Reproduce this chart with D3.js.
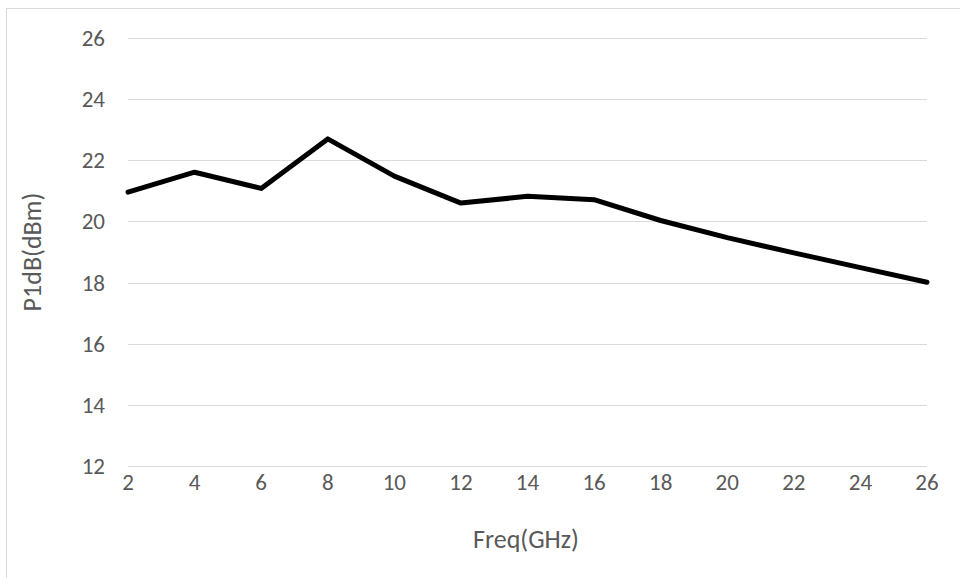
<!DOCTYPE html>
<html>
<head>
<meta charset="UTF-8">
<script src="https://d3js.org/d3.v7.min.js"></script>
<style>
  body { margin: 0; background: #fff; }
  text { font-family: Carlito, Calibri, Lato, sans-serif; fill: #595959; }
</style>
</head>
<body>
<svg width="960" height="578"></svg>
<script>
// values
var freq = [2, 4, 6, 8, 10, 12, 14, 16, 18, 20, 22, 24, 26];
var p1db = [20.96, 21.61, 21.08, 22.7, 21.48, 20.6, 20.82, 20.71, 20.03, 19.47, 18.97, 18.49, 18.01];
var yTicks = [12, 14, 16, 18, 20, 22, 24, 26];
var xTicks = [2, 4, 6, 8, 10, 12, 14, 16, 18, 20, 22, 24, 26];

var svg = d3.select("svg");

// outer frame
svg.append("rect")
  .attr("x", 6.5).attr("y", 8.5)
  .attr("width", 980).attr("height", 600)
  .attr("fill", "none").attr("stroke", "#d9d9d9");

var x = d3.scaleLinear().domain([2, 26]).range([128, 927]);
var y = d3.scaleLinear().domain([12, 26]).range([466, 38]);

// gridlines
svg.selectAll(".grid").data(yTicks).enter().append("line")
  .attr("x1", 128).attr("x2", 927)
  .attr("y1", function(d) { return Math.round(y(d)) + 0.5; })
  .attr("y2", function(d) { return Math.round(y(d)) + 0.5; })
  .attr("stroke", "#d9d9d9").attr("stroke-width", 1);

// y tick labels
svg.selectAll(".ylab").data(yTicks).enter().append("text")
  .attr("x", 105).attr("y", function(d) { return y(d); })
  .attr("dy", "0.35em")
  .attr("text-anchor", "end")
  .style("font-size", "23px")
  .text(function(d) { return d; });

// x tick labels
svg.selectAll(".xlab").data(xTicks).enter().append("text")
  .attr("x", function(d) { return x(d); }).attr("y", 482)
  .attr("dy", "0.35em")
  .attr("text-anchor", "middle")
  .style("font-size", "23px")
  .text(function(d) { return d; });

// axis titles
svg.append("text")
  .attr("x", 526).attr("y", 539)
  .attr("dy", "0.35em")
  .attr("text-anchor", "middle")
  .style("font-size", "26px")
  .text("Freq(GHz)");

svg.append("text")
  .attr("transform", "translate(32,252) rotate(-90)")
  .attr("dy", "0.35em")
  .attr("text-anchor", "middle")
  .style("font-size", "26px")
  .text("P1dB(dBm)");

// the line
var line = d3.line()
  .x(function(d, i) { return x(freq[i]); })
  .y(function(d) { return y(d); });

svg.append("path")
  .datum(p1db)
  .attr("d", line)
  .attr("fill", "none")
  .attr("stroke", "#000")
  .attr("stroke-width", 5)
  .attr("stroke-linejoin", "round")
  .attr("stroke-linecap", "round");
</script>
</body>
</html>
